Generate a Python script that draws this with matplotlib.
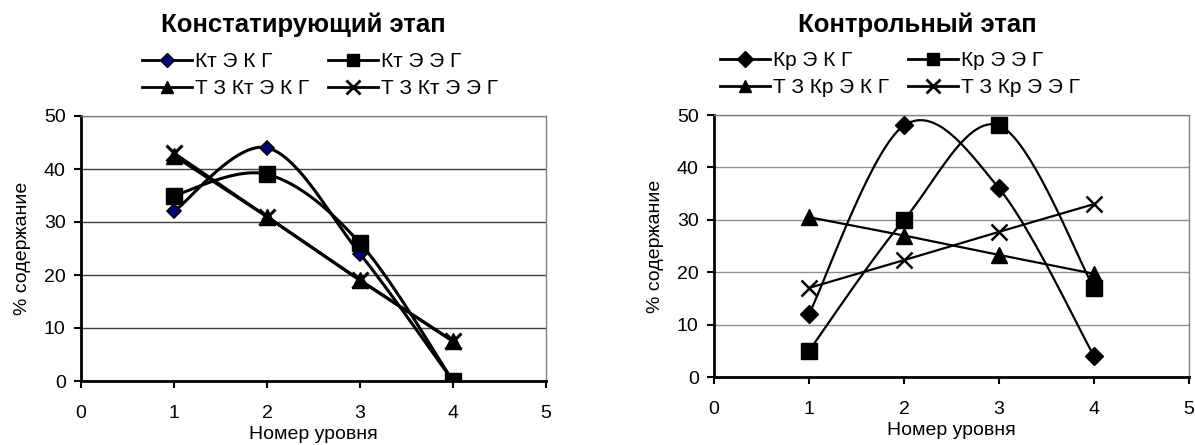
import numpy as np
import matplotlib
matplotlib.use("Agg")
import matplotlib.pyplot as plt
from matplotlib.lines import Line2D

plt.rcParams['font.family'] = ['Liberation Sans', 'DejaVu Sans']

levels = [1, 2, 3, 4]

# Констатирующий этап
left_title = "Констатирующий этап"
left_names = ["Кт Э К Г", "Кт Э Э Г", "Т З Кт Э К Г", "Т З Кт Э Э Г"]
kt_ekg = [32, 44, 24, 0]
kt_eeg = [35, 39, 26, 0]
tz_kt_ekg = [42.5, 31, 19, 7.5]
tz_kt_eeg = [43, 31, 19, 7.5]

# Контрольный этап
right_title = "Контрольный этап"
right_names = ["Кр Э К Г", "Кр Э Э Г", "Т З Кр Э К Г", "Т З Кр Э Э Г"]
kr_ekg = [12, 48, 36, 4]
kr_eeg = [5, 30, 48, 17]
tz_kr_ekg = [30.5, 27, 23.3, 19.7]
tz_kr_eeg = [17, 22.3, 27.7, 33]

x_label = "Номер уровня"
y_label = "% содержание"


def excel_smooth(x, y, n=40):
    """Catmull-Rom style Bezier smoothing similar to Excel's smoothed lines."""
    x = np.asarray(x, float)
    y = np.asarray(y, float)
    P = np.column_stack([x, y])
    m = len(P)
    out = [P[0]]
    t = np.linspace(0, 1, n)[1:]
    for i in range(m - 1):
        p0 = P[i - 1] if i > 0 else P[i]
        p1 = P[i]
        p2 = P[i + 1]
        p3 = P[i + 2] if i + 2 < m else P[i + 1]
        c1 = p1 + (p2 - p0) / 6.0
        c2 = p2 - (p3 - p1) / 6.0
        for tt in t:
            b = ((1 - tt) ** 3) * p1 + 3 * ((1 - tt) ** 2) * tt * c1 \
                + 3 * (1 - tt) * tt ** 2 * c2 + tt ** 3 * p2
            out.append(b)
    out = np.array(out)
    return out[:, 0], out[:, 1]


fig = plt.figure(figsize=(11.95, 4.45), dpi=100)

W, H = 1195, 445


def make_axes(l, r, b, t):
    return fig.add_axes([l / W, 1 - b / H, (r - l) / W, (b - t) / H])


axL = make_axes(81, 546, 381, 116)
axR = make_axes(714, 1189, 377, 115)


def style(ax, gridcolor, xpad):
    ax.set_xlim(0, 5)
    ax.set_ylim(0, 50)
    ax.set_xticks([0, 1, 2, 3, 4, 5])
    ax.set_yticks([0, 10, 20, 30, 40, 50])
    ax.yaxis.grid(True, color=gridcolor, linewidth=1.0)
    ax.set_axisbelow(True)
    for s in ['top', 'right']:
        ax.spines[s].set_color('#808080')
        ax.spines[s].set_linewidth(1.0)
    for s in ['left', 'bottom']:
        ax.spines[s].set_color('black')
        ax.spines[s].set_linewidth(2.0)
    ax.tick_params(axis='both', direction='out', length=5, width=1.5,
                   labelsize=14, colors='black')
    ax.tick_params(axis='x', pad=xpad)
    ax.tick_params(axis='y', pad=6)
    ax.set_xlabel(x_label, fontsize=14, labelpad=3)
    ax.set_ylabel(y_label, fontsize=14, labelpad=9)


style(axL, '#404040', 12)
style(axR, '#909090', 12)

lw_l = 2.2
lw_r = 1.6

# Left chart
xs, ys = excel_smooth(levels, kt_ekg)
axL.plot(xs, ys, color='black', lw=lw_l, zorder=3)
axL.plot(levels, kt_ekg, ls='none', marker='D', ms=7.5, mfc='#000080', mec='black', mew=1.2, zorder=5)
xs, ys = excel_smooth(levels, kt_eeg)
axL.plot(xs, ys, color='black', lw=lw_l, zorder=3)
axL.plot(levels, kt_eeg, ls='none', marker='s', ms=11, mfc='black', mec='black', zorder=5)
axL.plot(levels, tz_kt_ekg, color='black', lw=lw_l, marker='^', ms=11, mfc='black', mec='black', zorder=4)
axL.plot(levels, tz_kt_eeg, color='black', lw=lw_l, marker='x', ms=11, mew=2.2, mec='black', zorder=4)

hL = [
    Line2D([], [], color='black', lw=2, marker='D', ms=7.5, mfc='#000080', mec='black'),
    Line2D([], [], color='black', lw=2, marker='s', ms=9, mfc='black', mec='black'),
    Line2D([], [], color='black', lw=2, marker='^', ms=9, mfc='black', mec='black'),
    Line2D([], [], color='black', lw=2, marker='x', ms=10, mew=2, mec='black'),
]
hR = [
    Line2D([], [], color='black', lw=2, marker='D', ms=8, mfc='black', mec='black'),
    Line2D([], [], color='black', lw=2, marker='s', ms=9, mfc='black', mec='black'),
    Line2D([], [], color='black', lw=2, marker='^', ms=9, mfc='black', mec='black'),
    Line2D([], [], color='black', lw=2, marker='x', ms=10, mew=2, mec='black'),
]

# Right chart
xs, ys = excel_smooth(levels, kr_ekg)
axR.plot(xs, ys, color='black', lw=lw_r, zorder=3)
axR.plot(levels, kr_ekg, ls='none', marker='D', ms=9, mfc='black', mec='black', zorder=5)
xs, ys = excel_smooth(levels, kr_eeg)
axR.plot(xs, ys, color='black', lw=lw_r, zorder=3)
axR.plot(levels, kr_eeg, ls='none', marker='s', ms=11, mfc='black', mec='black', zorder=5)
axR.plot(levels, tz_kr_ekg, color='black', lw=lw_r, marker='^', ms=11, mfc='black', mec='black', zorder=4)
axR.plot(levels, tz_kr_eeg, color='black', lw=lw_r, marker='x', ms=12, mew=1.8, mec='black', zorder=4)

# Titles
fig.text(303 / W, 1 - 25 / H, left_title, ha='center', va='center', fontsize=18.5, fontweight='bold')
fig.text(917 / W, 1 - 25 / H, right_title, ha='center', va='center', fontsize=18.5, fontweight='bold')

# Legends (matplotlib fills columns first; reorder so rows read like the reference)
order = [0, 2, 1, 3]
legkw = dict(ncol=2, frameon=False, fontsize=15, handlelength=2.4, handletextpad=0.15,
             columnspacing=0.9, labelspacing=0.38, borderaxespad=0, borderpad=0,
             loc='upper left', bbox_transform=fig.transFigure)
fig.legend([hL[i] for i in order], [left_names[i] for i in order],
           bbox_to_anchor=(142 / W, 1 - 52 / H), **legkw)
fig.legend([hR[i] for i in order], [right_names[i] for i in order],
           bbox_to_anchor=(720 / W, 1 - 51 / H), **legkw)

fig.savefig("out.png", dpi=100)
